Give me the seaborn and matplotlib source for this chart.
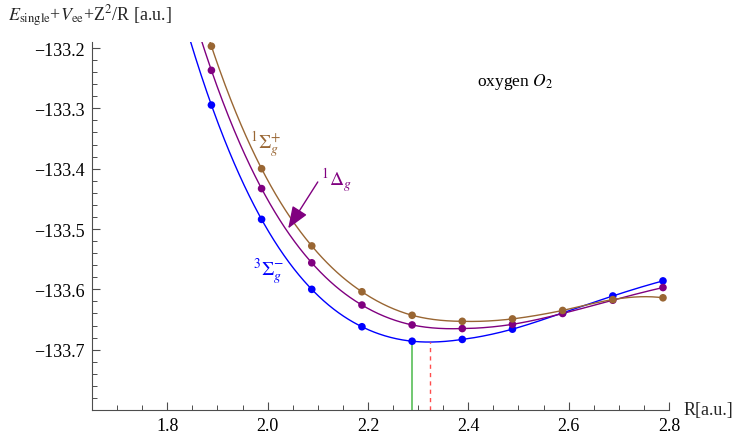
import numpy as np
import pandas as pd
import matplotlib
matplotlib.use('Agg')
import matplotlib.pyplot as plt
import seaborn as sns

# Data (R in a.u., energies in a.u.)
r_points = [1.888, 1.988, 2.088, 2.188, 2.288, 2.388, 2.488, 2.588, 2.688, 2.788]
e_sigma_minus = [-133.2945, -133.484, -133.600, -133.662, -133.686,
                 -133.683, -133.666, -133.639, -133.611, -133.586]
e_delta = [-133.237, -133.433, -133.556, -133.626, -133.659,
           -133.665, -133.658, -133.640, -133.618, -133.597]
e_sigma_plus = [-133.197, -133.400, -133.528, -133.604, -133.643,
                -133.653, -133.649, -133.635, -133.617, -133.614]

x_ticks = [1.8, 2.0, 2.2, 2.4, 2.6, 2.8]
x_tick_labels = ['1.8', '2.0', '2.2', '2.4', '2.6', '2.8']
y_ticks = [-133.2, -133.3, -133.4, -133.5, -133.6, -133.7]
y_tick_labels = ['\u2212133.2', '\u2212133.3', '\u2212133.4', '\u2212133.5', '\u2212133.6', '\u2212133.7']

green_r, green_top = 2.287, -133.686
red_r, red_top = 2.324, -133.687

blue = (0.0, 0.0, 1.0)
purple = (0.5, 0.0, 0.5)
brown = (0.6, 0.4, 0.2)


def interp3(xs, ys, xq):
    # piecewise cubic through 4 neighbouring points (like Mathematica's Interpolation)
    xs = np.asarray(xs)
    ys = np.asarray(ys)
    n = len(xs)
    out = []
    for x in xq:
        i = int(np.clip(np.searchsorted(xs, x) - 1, 0, n - 2))
        s = int(np.clip(i - 1, 0, n - 4))
        px, py = xs[s:s + 4], ys[s:s + 4]
        v = 0.0
        for j in range(4):
            lj = 1.0
            for k in range(4):
                if k != j:
                    lj *= (x - px[k]) / (px[j] - px[k])
            v += py[j] * lj
        out.append(v)
    return np.array(out)


sns.set_theme(style='ticks')
plt.rcParams['font.family'] = ['Liberation Serif', 'DejaVu Serif']
plt.rcParams['mathtext.fontset'] = 'stix'

fig = plt.figure(figsize=(7.42, 4.35), dpi=100)
ax = fig.add_axes([92 / 742, 24 / 435, 577 / 742, 368 / 435])

r_fine = np.linspace(1.80, r_points[-1], 600)
series = [(e_sigma_minus, blue), (e_delta, purple), (e_sigma_plus, brown)]
for vals, col in series:
    curve = pd.DataFrame({'R': r_fine, 'E': interp3(r_points, vals, r_fine)})
    sns.lineplot(data=curve, x='R', y='E', color=col, lw=1.0, sort=False,
                 estimator=None, ax=ax)
    pts = pd.DataFrame({'R': r_points, 'E': vals})
    sns.scatterplot(data=pts, x='R', y='E', color=col, s=30, edgecolor='none',
                    ax=ax, zorder=3)

ax.vlines(green_r, -133.8, green_top, color=(0.35, 0.75, 0.35), lw=1.2, zorder=2)
ax.vlines(red_r, -133.8, red_top, color=(1.0, 0.3, 0.3), lw=1.0,
          linestyle=(0, (3, 3)), zorder=2)

ax.annotate('', xy=(2.041, -133.499), xytext=(2.100, -133.422),
            arrowprops=dict(arrowstyle='-|>,head_length=0.9,head_width=0.35',
                            color=purple, lw=1.0, mutation_scale=15,
                            shrinkA=0, shrinkB=0))

ax.text(1.995, -133.359, r'$^{1}\Sigma_{g}^{+}$', color=brown, fontsize=14,
        ha='center', va='center')
ax.text(2.138, -133.417, r'$^{1}\Delta_{g}$', color=purple, fontsize=14,
        ha='center', va='center')
ax.text(2.001, -133.569, r'$^{3}\Sigma_{g}^{-}$', color=blue, fontsize=14,
        ha='center', va='center')
ax.text(2.493, -133.255, r'oxygen $O_2$', color='black', fontsize=12.5,
        ha='center', va='center')

ax.set_xlim(1.65, 2.8)
ax.set_ylim(-133.8, -133.19)
ax.set_xticks(x_ticks)
ax.set_xticklabels(x_tick_labels)
ax.set_yticks(y_ticks)
ax.set_yticklabels(y_tick_labels)
ax.set_xticks(np.arange(1.65, 2.801, 0.05), minor=True)
ax.set_yticks(np.arange(-133.8, -133.19, 0.02), minor=True)
ax.tick_params(which='major', direction='in', length=6, width=0.8,
               color='0.3', labelsize=13, labelcolor='black', pad=5)
ax.tick_params(which='minor', direction='in', length=3.5, width=0.7, color='0.3')
ax.set_xlabel('')
ax.set_ylabel('')

for side in ['top', 'right']:
    ax.spines[side].set_visible(False)
for side in ['left', 'bottom']:
    ax.spines[side].set_color('0.3')
    ax.spines[side].set_linewidth(0.8)

fig.text(8 / 742, 1 - 16 / 435,
         r'$E_{\rm single}$+$V_{\rm ee}$+Z$^2$/R [a.u.]',
         fontsize=13, ha='left', va='center')
fig.text(684 / 742, 24 / 435, 'R[a.u.]', fontsize=13, ha='left', va='center')

fig.savefig('out.png', dpi=100)
